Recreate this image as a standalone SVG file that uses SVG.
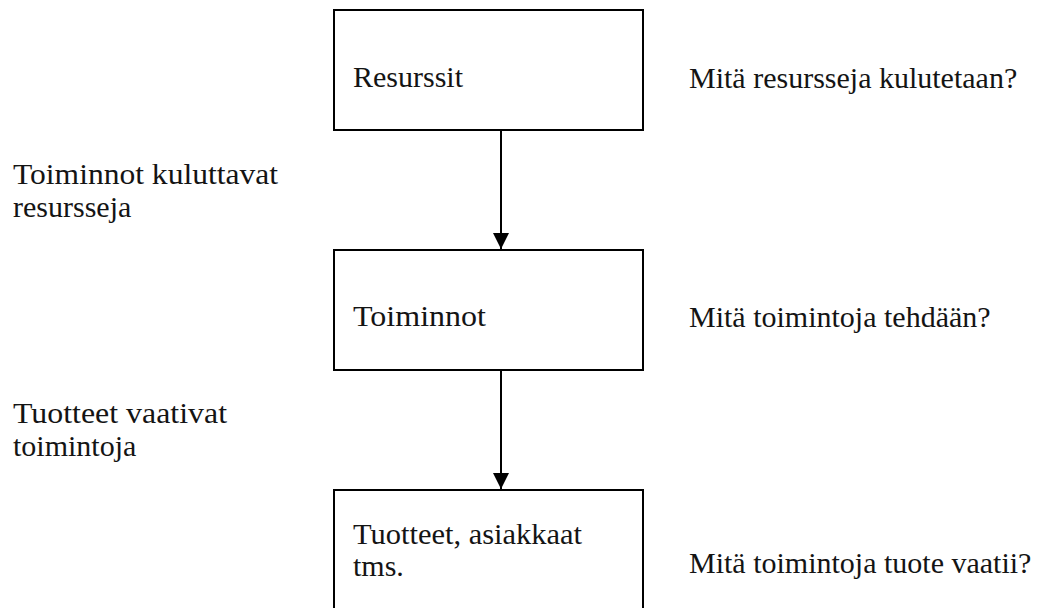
<svg xmlns="http://www.w3.org/2000/svg" width="1046" height="608" viewBox="0 0 1046 608">
  <style>
    .box { fill: #ffffff; stroke: #000000; stroke-width: 2; }
    .lbl { font-family: "Liberation Serif", "Times New Roman", serif; font-size: 30px; fill: #141414; }
    .conn { stroke: #000000; stroke-width: 2; fill: none; }
  </style>
  <defs>
    <marker id="arrow" markerWidth="8" markerHeight="8" refX="8" refY="4" orient="auto" markerUnits="strokeWidth">
      <path d="M0,0 L8,4 L0,8 Z" fill="#000000"/>
    </marker>
  </defs>
  <rect width="1046" height="608" fill="#ffffff"/>

  <!-- flow connectors -->
  <g id="connectors">
    <line class="conn" x1="501" y1="131" x2="501" y2="249" marker-end="url(#arrow)"/>
    <line class="conn" x1="501" y1="371" x2="501" y2="489" marker-end="url(#arrow)"/>
  </g>

  <!-- level 1 -->
  <g id="resurssit">
    <rect class="box" x="334" y="10" width="309" height="120"/>
    <text class="lbl" x="353" y="87" textLength="110" lengthAdjust="spacingAndGlyphs">Resurssit</text>
  </g>
  <g id="q-resurssit">
    <text class="lbl" x="689" y="88">Mitä resursseja kulutetaan?</text>
  </g>
  <g id="note-kuluttavat">
    <text class="lbl" x="13" y="184" textLength="265" lengthAdjust="spacingAndGlyphs">Toiminnot kuluttavat</text>
    <text class="lbl" x="13" y="217">resursseja</text>
  </g>

  <!-- level 2 -->
  <g id="toiminnot">
    <rect class="box" x="334" y="250" width="309" height="120"/>
    <text class="lbl" x="353" y="326" textLength="133" lengthAdjust="spacingAndGlyphs">Toiminnot</text>
  </g>
  <g id="q-toiminnot">
    <text class="lbl" x="689" y="327">Mitä toimintoja tehdään?</text>
  </g>
  <g id="note-vaativat">
    <text class="lbl" x="13" y="423" textLength="214" lengthAdjust="spacingAndGlyphs">Tuotteet vaativat</text>
    <text class="lbl" x="13" y="456">toimintoja</text>
  </g>

  <!-- level 3 -->
  <g id="tuotteet">
    <rect class="box" x="334" y="490" width="309" height="130"/>
    <text class="lbl" x="353" y="544" textLength="229" lengthAdjust="spacingAndGlyphs">Tuotteet, asiakkaat</text>
    <text class="lbl" x="353" y="576">tms.</text>
  </g>
  <g id="q-tuotteet">
    <text class="lbl" x="689" y="573">Mitä toimintoja tuote vaatii?</text>
  </g>
</svg>
